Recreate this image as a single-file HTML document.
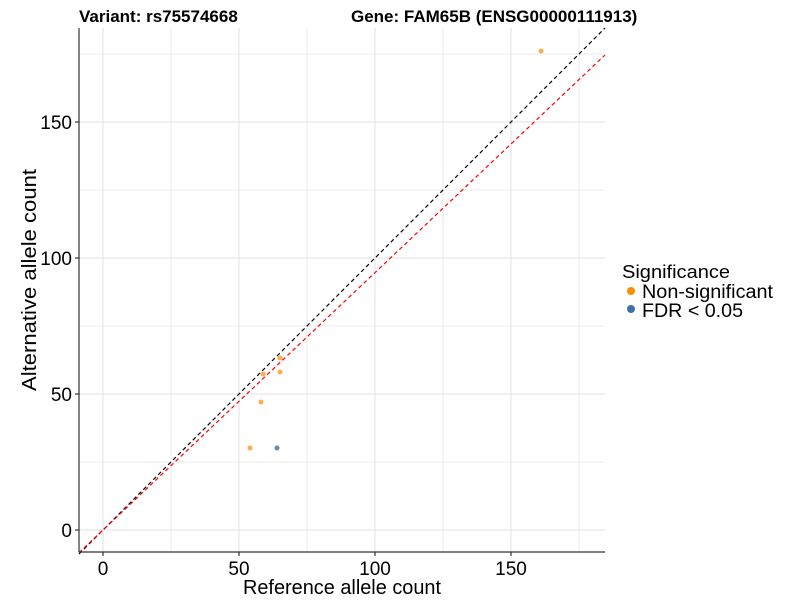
<!DOCTYPE html><html><head><style>body{margin:0;background:#fff}</style></head><body>
<svg width="800" height="600" xmlns="http://www.w3.org/2000/svg" font-family="Liberation Sans, Arial, sans-serif">
<g stroke="#ebebeb" stroke-width="1">
<line x1="79" x2="605" y1="54" y2="54"/><line x1="79" x2="605" y1="190" y2="190"/><line x1="79" x2="605" y1="326" y2="326"/><line x1="79" x2="605" y1="462" y2="462"/>
<line y1="28" y2="552" x1="171" x2="171"/><line y1="28" y2="552" x1="307" x2="307"/><line y1="28" y2="552" x1="443" x2="443"/><line y1="28" y2="552" x1="579" x2="579"/>
</g>
<g stroke="#e6e6e6" stroke-width="1.2">
<line x1="79" x2="605" y1="122" y2="122"/><line x1="79" x2="605" y1="258" y2="258"/><line x1="79" x2="605" y1="394" y2="394"/><line x1="79" x2="605" y1="530" y2="530"/>
<line y1="28" y2="552" x1="103" x2="103"/><line y1="28" y2="552" x1="239" x2="239"/><line y1="28" y2="552" x1="375" x2="375"/><line y1="28" y2="552" x1="511" x2="511"/>
</g>
<line x1="79" y1="554" x2="605" y2="28" stroke="#000" stroke-width="1.2" stroke-dasharray="4,3"/>
<line x1="79" y1="552.7" x2="605" y2="55" stroke="#f00" stroke-width="1.2" stroke-dasharray="4,3"/>
<g fill="#ff9f33" opacity="0.85">
<circle cx="541" cy="51" r="2.5"/><circle cx="263" cy="374" r="2.5"/><circle cx="280" cy="358" r="2.5"/><circle cx="280" cy="372" r="2.5"/><circle cx="261" cy="402" r="2.5"/><circle cx="250" cy="448" r="2.5"/>
</g>
<circle cx="277" cy="448" r="2.5" fill="#4a77a8" opacity="0.85"/>
<g stroke="#333" stroke-width="1.2"><line x1="79" y1="28" x2="79" y2="552"/><line x1="79" y1="552" x2="605" y2="552"/>
<line x1="75" x2="79" y1="122" y2="122"/><line x1="75" x2="79" y1="258" y2="258"/><line x1="75" x2="79" y1="394" y2="394"/><line x1="75" x2="79" y1="530" y2="530"/>
<line y1="552" y2="556" x1="103" x2="103"/><line y1="552" y2="556" x1="239" x2="239"/><line y1="552" y2="556" x1="375" x2="375"/><line y1="552" y2="556" x1="511" x2="511"/></g>
<g font-size="19" fill="#000" text-anchor="end"><text x="72" y="129">150</text><text x="72" y="265">100</text><text x="72" y="401">50</text><text x="72" y="537">0</text></g>
<g font-size="19" fill="#000" text-anchor="middle"><text x="103" y="575">0</text><text x="239" y="575">50</text><text x="375" y="575">100</text><text x="511" y="575">150</text></g>
<text x="243" y="594" font-size="20" textLength="198" lengthAdjust="spacingAndGlyphs">Reference allele count</text>
<text transform="translate(36,391) rotate(-90)" font-size="20" textLength="222" lengthAdjust="spacingAndGlyphs">Alternative allele count</text>
<text x="79" y="22" font-size="17" font-weight="bold">Variant: rs75574668</text>
<text x="351" y="22" font-size="17" font-weight="bold">Gene: FAM65B (ENSG00000111913)</text>
<text x="622" y="278" font-size="18" textLength="108" lengthAdjust="spacingAndGlyphs">Significance</text>
<circle cx="631" cy="291" r="4" fill="#ff8c00"/><text x="642" y="298" font-size="19" textLength="131" lengthAdjust="spacingAndGlyphs">Non-significant</text>
<circle cx="631" cy="309" r="4" fill="#3f6fa8"/><text x="642" y="317" font-size="19" textLength="101" lengthAdjust="spacingAndGlyphs">FDR &lt; 0.05</text>
</svg></body></html>
